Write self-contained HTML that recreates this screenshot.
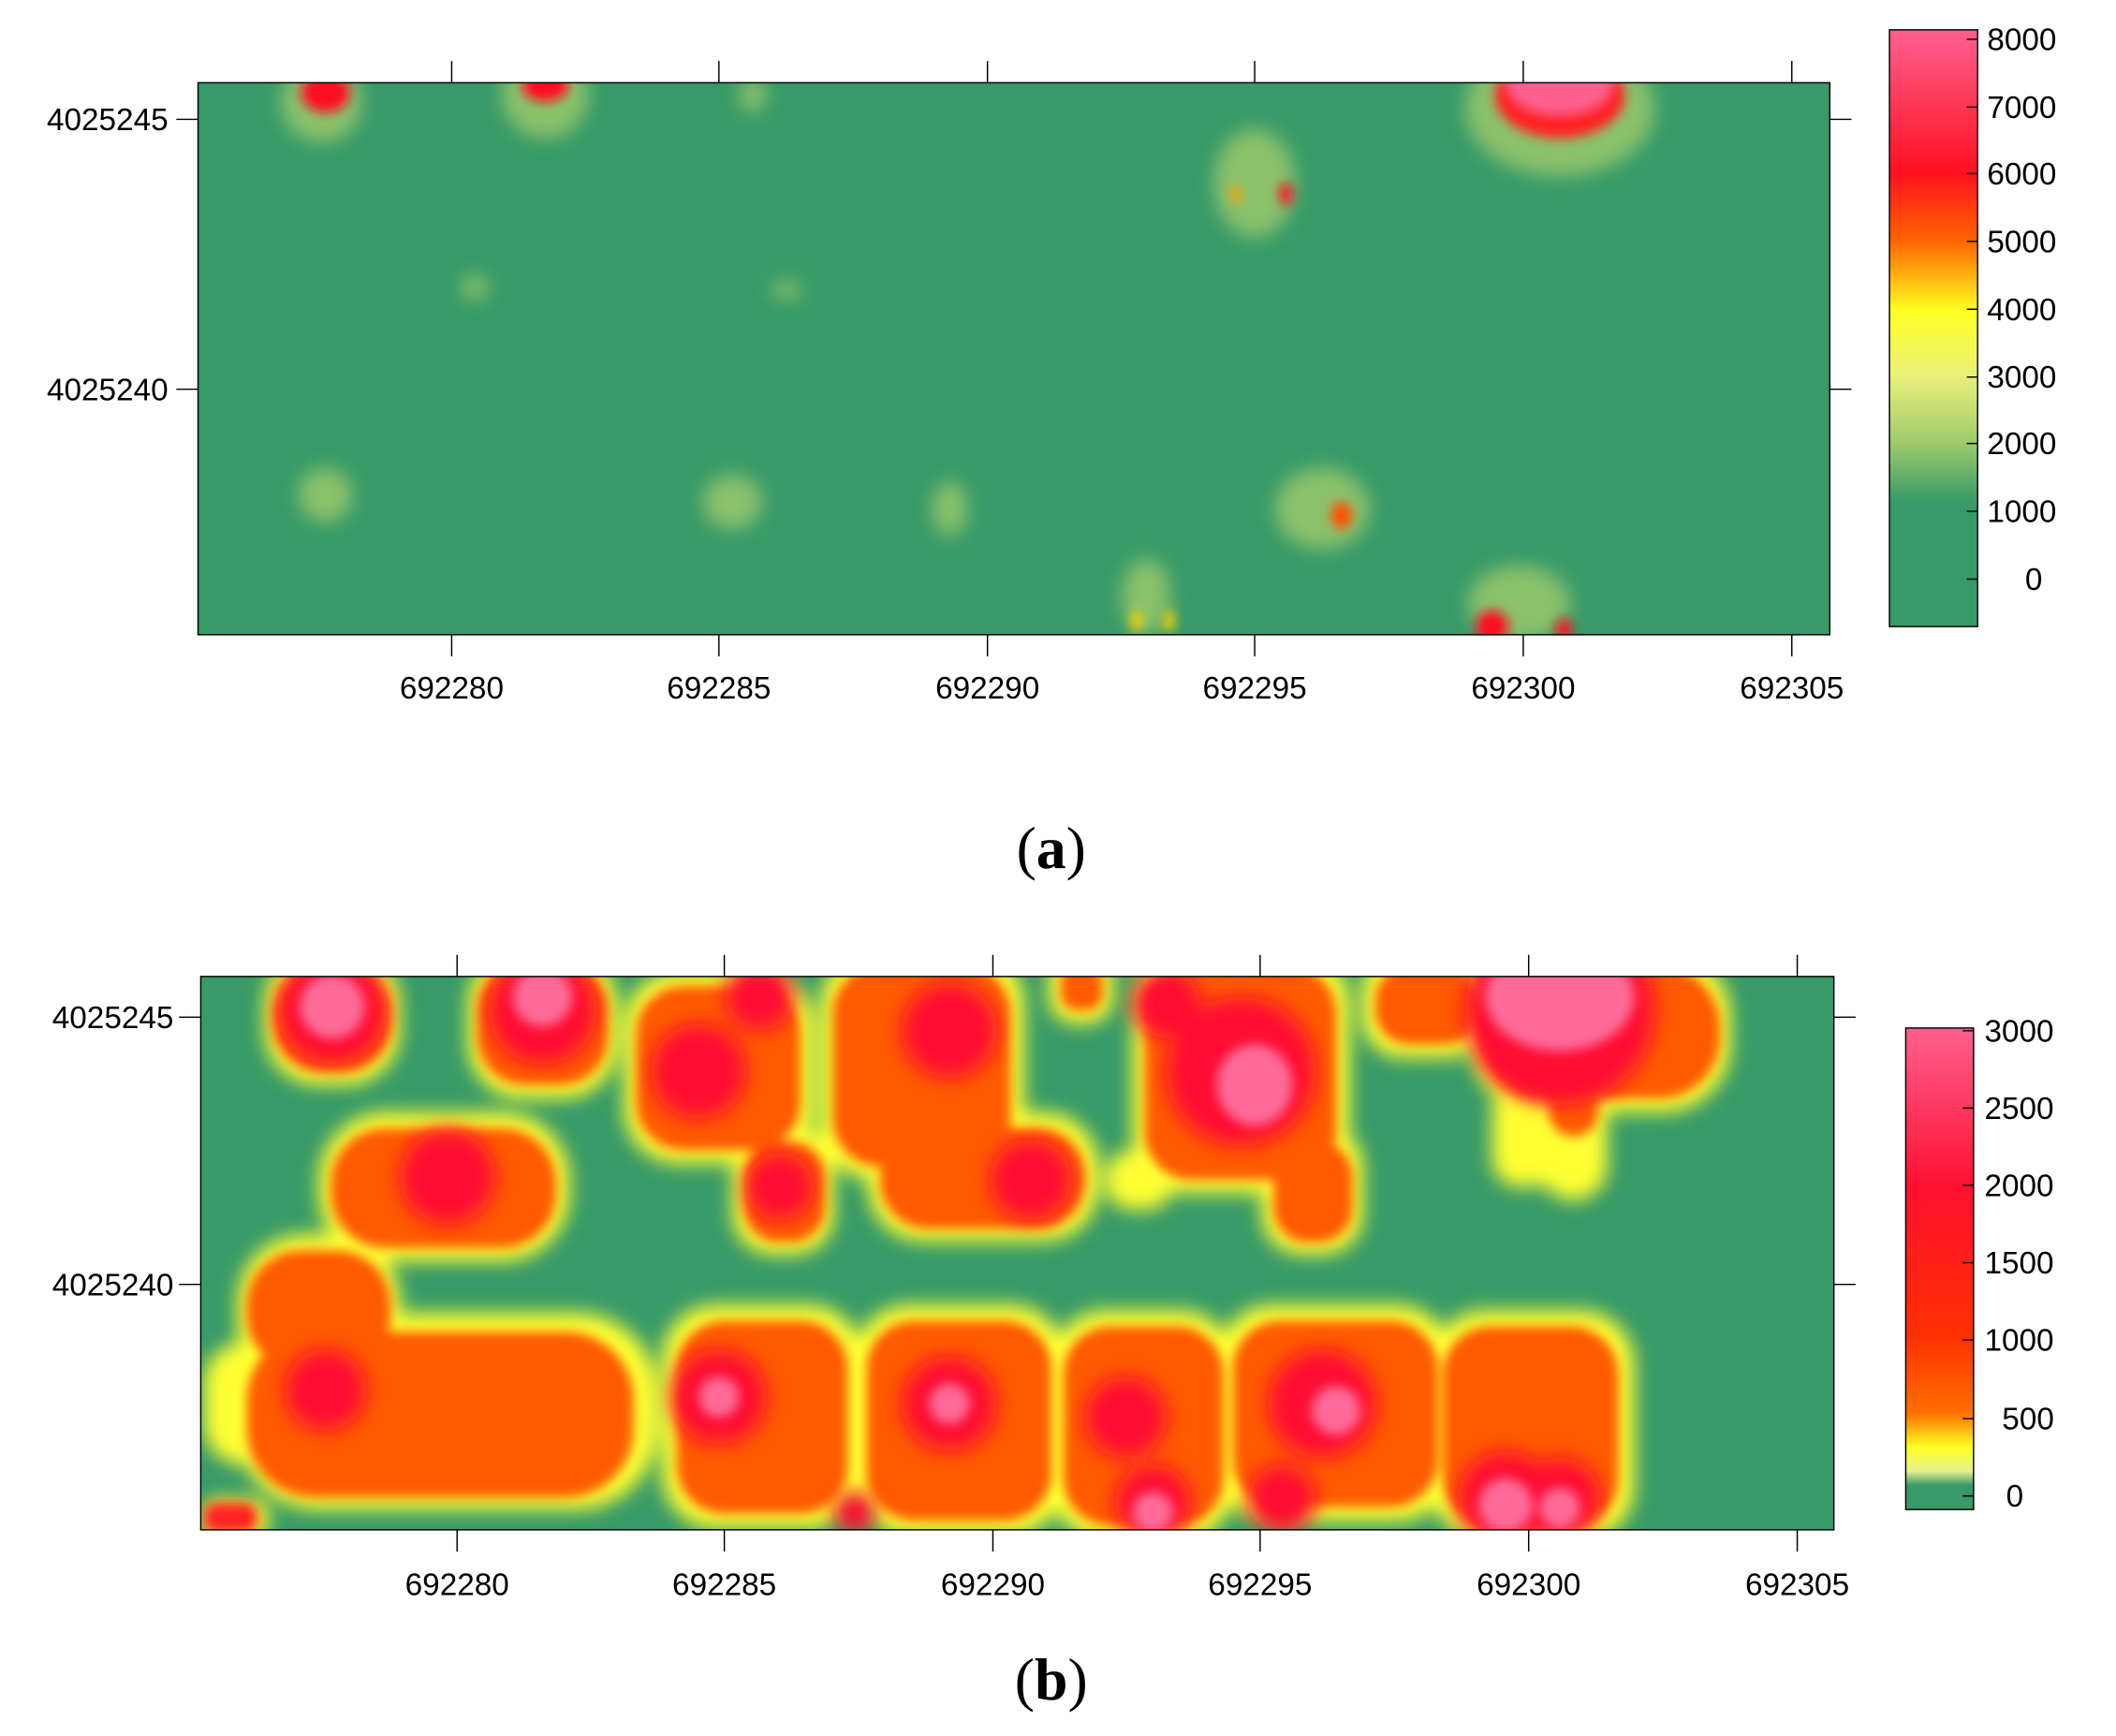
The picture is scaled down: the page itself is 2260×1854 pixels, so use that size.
<!DOCTYPE html>
<html><head><meta charset="utf-8"><style>html,body{margin:0;padding:0;background:#fff}svg{display:block}</style></head>
<body>
<svg width="2260" height="1854" viewBox="0 0 1560 1280" preserveAspectRatio="none" xmlns="http://www.w3.org/2000/svg" font-family="Liberation Sans, sans-serif">
<defs>
<filter id="bl" x="-20%" y="-20%" width="140%" height="140%"><feGaussianBlur stdDeviation="7"/></filter>
<filter id="bs" x="-20%" y="-20%" width="140%" height="140%"><feGaussianBlur stdDeviation="4"/></filter>
<clipPath id="ca"><rect x="146" y="61" width="1203" height="407"/></clipPath>
<clipPath id="cb"><rect x="148" y="720" width="1204" height="408"/></clipPath>
<linearGradient id="ga" x1="0" y1="0" x2="0" y2="1">
<stop offset="0" stop-color="#ff6090"/><stop offset="0.24" stop-color="#ff1020"/><stop offset="0.35" stop-color="#ff6000"/><stop offset="0.47" stop-color="#ffff20"/><stop offset="0.58" stop-color="#eaf07a"/><stop offset="0.69" stop-color="#a0cc6c"/><stop offset="0.79" stop-color="#379a68"/><stop offset="1" stop-color="#379a68"/></linearGradient>
<linearGradient id="gb" x1="0" y1="0" x2="0" y2="1">
<stop offset="0" stop-color="#ff6090"/><stop offset="0.33" stop-color="#ff1030"/><stop offset="0.64" stop-color="#ff3000"/><stop offset="0.8" stop-color="#ff7000"/><stop offset="0.87" stop-color="#ffff20"/><stop offset="0.92" stop-color="#e8f090"/><stop offset="0.95" stop-color="#379a68"/><stop offset="1" stop-color="#379a68"/></linearGradient>
</defs>

<!-- Panel a -->
<rect x="146" y="61" width="1203" height="407" fill="#379a68"/>
<g clip-path="url(#ca)">
<g filter="url(#bl)" fill="#e0ea70" opacity="0.5">
<ellipse cx="237" cy="75" rx="30" ry="30"/><ellipse cx="402" cy="70" rx="32" ry="32"/>
<ellipse cx="1150" cy="80" rx="70" ry="50"/><ellipse cx="925" cy="135" rx="30" ry="40"/>
<ellipse cx="240" cy="365" rx="20" ry="20"/><ellipse cx="540" cy="370" rx="22" ry="20"/><ellipse cx="700" cy="375" rx="13" ry="20"/>
<ellipse cx="975" cy="375" rx="35" ry="30"/><ellipse cx="845" cy="440" rx="18" ry="28"/><ellipse cx="1120" cy="445" rx="38" ry="28"/>
<ellipse cx="555" cy="70" rx="10" ry="13"/><ellipse cx="350" cy="212" rx="10" ry="9"/><ellipse cx="580" cy="214" rx="12" ry="6"/>
</g>
<g filter="url(#bs)">
<ellipse cx="1150" cy="70" rx="48" ry="32" fill="#ff2020"/><ellipse cx="1150" cy="62" rx="38" ry="22" fill="#ff6090"/>
<ellipse cx="240" cy="68" rx="18" ry="15" fill="#ff1020"/><ellipse cx="402" cy="63" rx="17" ry="12" fill="#ff1020"/>
<ellipse cx="948" cy="143" rx="5" ry="8" fill="#ff1020"/><ellipse cx="911" cy="143" rx="4" ry="6" fill="#ffa000"/>
<ellipse cx="989" cy="380" rx="8" ry="10" fill="#ff5000"/><ellipse cx="1100" cy="462" rx="12" ry="12" fill="#ff1020"/><ellipse cx="1153" cy="464" rx="6" ry="8" fill="#ff1020"/>
<ellipse cx="838" cy="458" rx="4" ry="8" fill="#ffd000"/><ellipse cx="862" cy="458" rx="4" ry="8" fill="#ffd000"/>
</g>
</g>
<rect x="146" y="61" width="1203" height="407" fill="none" stroke="#000" stroke-width="1"/>
<g stroke="#000" stroke-width="1">
<path d="M333 45V61M530 45V61M728 45V61M925 45V61M1123 45V61M1321 45V61M333 468V484M530 468V484M728 468V484M925 468V484M1123 468V484M1321 468V484M130 88H146M130 287H146M1349 88H1365M1349 287H1365"/>
</g>
<g font-size="23" text-anchor="middle" fill="#000">
<text x="333" y="515">692280</text><text x="530" y="515">692285</text><text x="728" y="515">692290</text><text x="925" y="515">692295</text><text x="1123" y="515">692300</text><text x="1321" y="515">692305</text>
</g>
<g font-size="23" text-anchor="end"><text x="124" y="96">4025245</text><text x="124" y="295">4025240</text></g>
<rect x="1393" y="22" width="65" height="440" fill="url(#ga)" stroke="#000" stroke-width="1"/>
<g stroke="#000"><path d="M1450 29H1458M1450 79H1458M1450 128H1458M1450 178H1458M1450 228H1458M1450 278H1458M1450 327H1458M1450 377H1458M1450 427H1458"/></g>
<g font-size="23"><text x="1465" y="37">8000</text><text x="1465" y="87">7000</text><text x="1465" y="136">6000</text><text x="1465" y="186">5000</text><text x="1465" y="236">4000</text><text x="1465" y="286">3000</text><text x="1465" y="335">2000</text><text x="1465" y="385">1000</text><text x="1493" y="435">0</text></g>
<text x="775" y="640" font-family="Liberation Serif, serif" font-size="44" text-anchor="middle">(<tspan font-weight="bold">a</tspan>)</text>

<!-- Panel b -->
<rect x="148" y="720" width="1204" height="408" fill="#379a68"/>
<g clip-path="url(#cb)">
<g filter="url(#bl)" fill="#ffff30">
<rect x="150" y="990" width="60" height="90" rx="30"/>
<rect x="175" y="968" width="310" height="145" rx="60"/><rect x="175" y="910" width="120" height="115" rx="50"/>
<rect x="488" y="962" width="148" height="165" rx="40"/><rect x="630" y="962" width="155" height="170" rx="40"/>
<rect x="775" y="966" width="135" height="170" rx="40"/><rect x="898" y="962" width="172" height="160" rx="40"/><rect x="1055" y="966" width="150" height="170" rx="40"/>
<rect x="235" y="820" width="185" height="110" rx="50"/><rect x="540" y="830" width="75" height="95" rx="30"/><rect x="640" y="820" width="170" height="95" rx="40"/>
<rect x="930" y="830" width="75" height="95" rx="30"/><rect x="195" y="700" width="100" height="100" rx="40"/><rect x="345" y="700" width="110" height="110" rx="40"/>
<rect x="460" y="716" width="140" height="142" rx="40"/><rect x="605" y="700" width="150" height="170" rx="40"/><rect x="773" y="700" width="48" height="55" rx="20"/>
<rect x="835" y="700" width="160" height="180" rx="40"/><rect x="1004" y="700" width="92" height="80" rx="30"/><rect x="1084" y="700" width="192" height="120" rx="50"/>
<rect x="1135" y="780" width="50" height="105" rx="25"/><rect x="815" y="848" width="50" height="44" rx="20"/><rect x="1100" y="800" width="50" height="75" rx="20"/>
<rect x="148" y="1105" width="50" height="30" rx="12"/>
</g>
<g filter="url(#bs)" fill="#ff5a00">
<rect x="182" y="982" width="285" height="122" rx="50"/><rect x="182" y="922" width="106" height="88" rx="40"/>
<rect x="499" y="974" width="126" height="142" rx="35"/><rect x="639" y="974" width="136" height="147" rx="35"/>
<rect x="784" y="978" width="118" height="147" rx="35"/><rect x="909" y="974" width="151" height="137" rx="35"/><rect x="1064" y="978" width="129" height="147" rx="35"/>
<rect x="244" y="832" width="166" height="88" rx="40"/><rect x="549" y="842" width="59" height="74" rx="25"/><rect x="649" y="832" width="151" height="74" rx="35"/>
<rect x="939" y="842" width="58" height="74" rx="25"/><rect x="202" y="712" width="86" height="78" rx="35"/><rect x="352" y="710" width="96" height="90" rx="35"/>
<rect x="469" y="727" width="121" height="121" rx="35"/><rect x="614" y="712" width="131" height="148" rx="35"/><rect x="782" y="712" width="31" height="33" rx="12"/>
<rect x="844" y="712" width="141" height="158" rx="35"/><rect x="1014" y="712" width="76" height="58" rx="25"/><rect x="1092" y="712" width="176" height="98" rx="45"/>
<rect x="1142" y="780" width="36" height="58" rx="18"/><rect x="150" y="1108" width="40" height="22" rx="10" fill="#ff2020"/>
</g>
<g filter="url(#bl)" fill="#ff1030">
<circle cx="240" cy="1025" r="30"/><circle cx="530" cy="1030" r="35"/><circle cx="700" cy="1035" r="35"/><circle cx="830" cy="1045" r="30"/>
<circle cx="850" cy="1108" r="28"/><circle cx="945" cy="1105" r="25"/><circle cx="975" cy="1035" r="40"/><circle cx="1110" cy="1105" r="35"/><circle cx="1150" cy="1105" r="30"/>
<circle cx="330" cy="868" r="35"/><circle cx="575" cy="875" r="25"/><circle cx="760" cy="870" r="30"/><circle cx="245" cy="745" r="40"/><circle cx="400" cy="745" r="40"/>
<circle cx="515" cy="790" r="35"/><circle cx="700" cy="760" r="35"/><circle cx="915" cy="790" r="55"/><circle cx="1150" cy="745" r="70"/><circle cx="630" cy="1115" r="15"/>
<circle cx="560" cy="735" r="25"/><circle cx="860" cy="740" r="25"/>
</g>
<g filter="url(#bs)" fill="#ff6a98">
<circle cx="245" cy="742" r="24"/><circle cx="400" cy="735" r="22"/><circle cx="530" cy="1030" r="15"/><circle cx="700" cy="1035" r="15"/>
<circle cx="985" cy="1040" r="18"/><circle cx="850" cy="1115" r="15"/><circle cx="1110" cy="1110" r="20"/><circle cx="1150" cy="1112" r="15"/>
<ellipse cx="925" cy="800" rx="28" ry="30"/><ellipse cx="1150" cy="735" rx="55" ry="40"/>
</g>
</g>
<rect x="148" y="720" width="1204" height="408" fill="none" stroke="#000" stroke-width="1"/>
<g stroke="#000" stroke-width="1">
<path d="M337 704V720M534 704V720M732 704V720M929 704V720M1127 704V720M1325 704V720M337 1128V1144M534 1128V1144M732 1128V1144M929 1128V1144M1127 1128V1144M1325 1128V1144M132 750H148M132 947H148M1352 750H1368M1352 947H1368"/>
</g>
<g font-size="23" text-anchor="middle" fill="#000">
<text x="337" y="1176">692280</text><text x="534" y="1176">692285</text><text x="732" y="1176">692290</text><text x="929" y="1176">692295</text><text x="1127" y="1176">692300</text><text x="1325" y="1176">692305</text>
</g>
<g font-size="23" text-anchor="end"><text x="128" y="758">4025245</text><text x="128" y="955">4025240</text></g>
<rect x="1405" y="758" width="50" height="355" fill="url(#gb)" stroke="#000" stroke-width="1"/>
<g stroke="#000"><path d="M1447 760H1455M1447 817H1455M1447 874H1455M1447 931H1455M1447 988H1455M1447 1046H1455M1447 1103H1455"/></g>
<g font-size="23"><text x="1463" y="768">3000</text><text x="1463" y="825">2500</text><text x="1463" y="882">2000</text><text x="1463" y="939">1500</text><text x="1463" y="996">1000</text><text x="1476" y="1054">500</text><text x="1479" y="1111">0</text></g>
<text x="775" y="1253" font-family="Liberation Serif, serif" font-size="44" text-anchor="middle">(<tspan font-weight="bold">b</tspan>)</text>
</svg>
</body></html>
